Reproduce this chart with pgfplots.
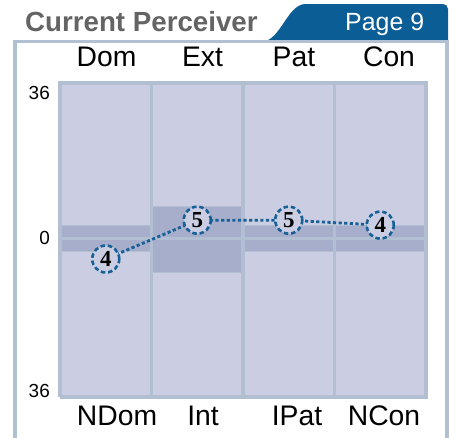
\documentclass[border=0pt]{standalone}
\usepackage{pgfplots}
\pgfplotsset{compat=1.18}
\usepackage{fontspec}
\setmainfont{Liberation Sans}
\newfontfamily\numfont{Liberation Serif}
\definecolor{cellfill}{RGB}{203,206,226}
\definecolor{bandfill}{RGB}{166,174,203}
\definecolor{gridc}{RGB}{178,191,211}
\definecolor{framec}{RGB}{178,192,212}
\definecolor{tabblue}{RGB}{11,93,150}
\definecolor{ptblue}{RGB}{24,96,150}
\definecolor{titlegray}{RGB}{100,100,100}
\begin{document}
\begin{tikzpicture}
\useasboundingbox (0bp,0bp) rectangle (449bp,-438bp);
% header tab
\fill[tabblue] (262bp,-42bp) .. controls (281bp,-40bp) and (287bp,-5bp) .. (305bp,-4bp) -- (443bp,-4bp) to[out=0,in=90] (448bp,-9bp) -- (448bp,-42bp) -- cycle;
% frame
\draw[framec, line width=3.4bp] (15bp,-470bp) -- (15bp,-41.7bp) -- (447bp,-41.7bp) -- (447bp,-470bp);
\node[anchor=base west, inner sep=0pt, text=titlegray, font=\bfseries\fontsize{27.8}{30}\selectfont] at (25bp,-31.5bp) {Current Perceiver};
\node[anchor=base west, inner sep=0pt, text=white, font=\fontsize{25}{28}\selectfont] at (345bp,-30bp) {Page 9};

\begin{axis}[
  at={(60bp,-397bp)}, anchor=south west,
  scale only axis, width=366bp, height=314bp,
  xmin=0, xmax=4, ymin=-38.4, ymax=37.6,
  clip=false,
  axis line style={draw=none},
  major tick length=0pt,
  xtick={0.623,1.563,2.59,3.541},
  xticklabels={NDom,Int,IPat,NCon},
  xticklabel style={anchor=base, inner sep=0pt, yshift=-28bp, font=\fontsize{28.4}{30}\selectfont},
  ytick={-37,0,35.1},
  yticklabels={36,0,36},
  yticklabel style={anchor=east, inner sep=0pt, xshift=-10bp, font=\fontsize{19}{20}\selectfont},
]
% column backgrounds
\addplot[fill=cellfill, draw=none] coordinates {(0,-38.4) (4,-38.4) (4,37.6) (0,37.6) (0,-38.4)};
% bands
\addplot[fill=bandfill, draw=gridc, line width=1bp] coordinates {(0,0) (1,0) (1,3.2) (0,3.2) (0,0)};
\addplot[fill=bandfill, draw=gridc, line width=1bp] coordinates {(0,0) (1,0) (1,-3.1) (0,-3.1) (0,0)};
\addplot[fill=bandfill, draw=gridc, line width=1bp] coordinates {(1,0) (2,0) (2,7.65) (1,7.65) (1,0)};
\addplot[fill=bandfill, draw=gridc, line width=1bp] coordinates {(1,0) (2,0) (2,-8.15) (1,-8.15) (1,0)};
\addplot[fill=bandfill, draw=gridc, line width=1bp] coordinates {(2,0) (3,0) (3,3.2) (2,3.2) (2,0)};
\addplot[fill=bandfill, draw=gridc, line width=1bp] coordinates {(2,0) (3,0) (3,-3.1) (2,-3.1) (2,0)};
\addplot[fill=bandfill, draw=gridc, line width=1bp] coordinates {(3,0) (4,0) (4,3.2) (3,3.2) (3,0)};
\addplot[fill=bandfill, draw=gridc, line width=1bp] coordinates {(3,0) (4,0) (4,-3.1) (3,-3.1) (3,0)};
% zero line
\addplot[gridc, line width=2.8bp] coordinates {(0,0) (4,0)};
% cell borders
\addplot[draw=gridc, line width=3.3bp, line join=miter] coordinates {(0,-38.4) (4,-38.4) (4,37.6) (0,37.6) (0,-38.4)};
\addplot[draw=gridc, line width=3.3bp] coordinates {(1,-38.4) (1,37.6)};
\addplot[draw=gridc, line width=3.3bp] coordinates {(2,-38.4) (2,37.6)};
\addplot[draw=gridc, line width=3.3bp] coordinates {(3,-38.4) (3,37.6)};
% profile line
\addplot[ptblue, line width=2.8bp, dash pattern=on 3.2bp off 2.4bp] coordinates {(0.5,-5.0) (1.5,4.4) (2.5,4.4) (3.5,3.2)};
% circles with scores
\addplot[only marks, mark=*, mark size=13.5bp,
  mark options={draw=ptblue, fill=cellfill, line width=2.6bp, dash pattern=on 4.5bp off 2.8bp},
  point meta=explicit symbolic,
  nodes near coords,
  nodes near coords align={anchor=center},
  every node near coord/.append style={anchor=center, inner sep=0pt, text=black, font=\numfont\bfseries\fontsize{23}{23}\selectfont},
] table[meta=lab] {
x y lab
0.5 -5.0 4
1.5 4.4 5
2.5 4.4 5
3.5 3.2 4
};
\end{axis}

\begin{axis}[
  at={(60bp,-397bp)}, anchor=south west,
  scale only axis, width=366bp, height=314bp,
  xmin=0, xmax=4, ymin=-38.4, ymax=37.6,
  axis line style={draw=none},
  major tick length=0pt,
  ytick=\empty,
  xticklabel pos=upper,
  xtick={0.508,1.557,2.557,3.596},
  xticklabels={Dom,Ext,Pat,Con},
  xticklabel style={anchor=base, inner sep=0pt, yshift=16.3bp, font=\fontsize{28.4}{30}\selectfont},
]
\end{axis}
\end{tikzpicture}
\end{document}
